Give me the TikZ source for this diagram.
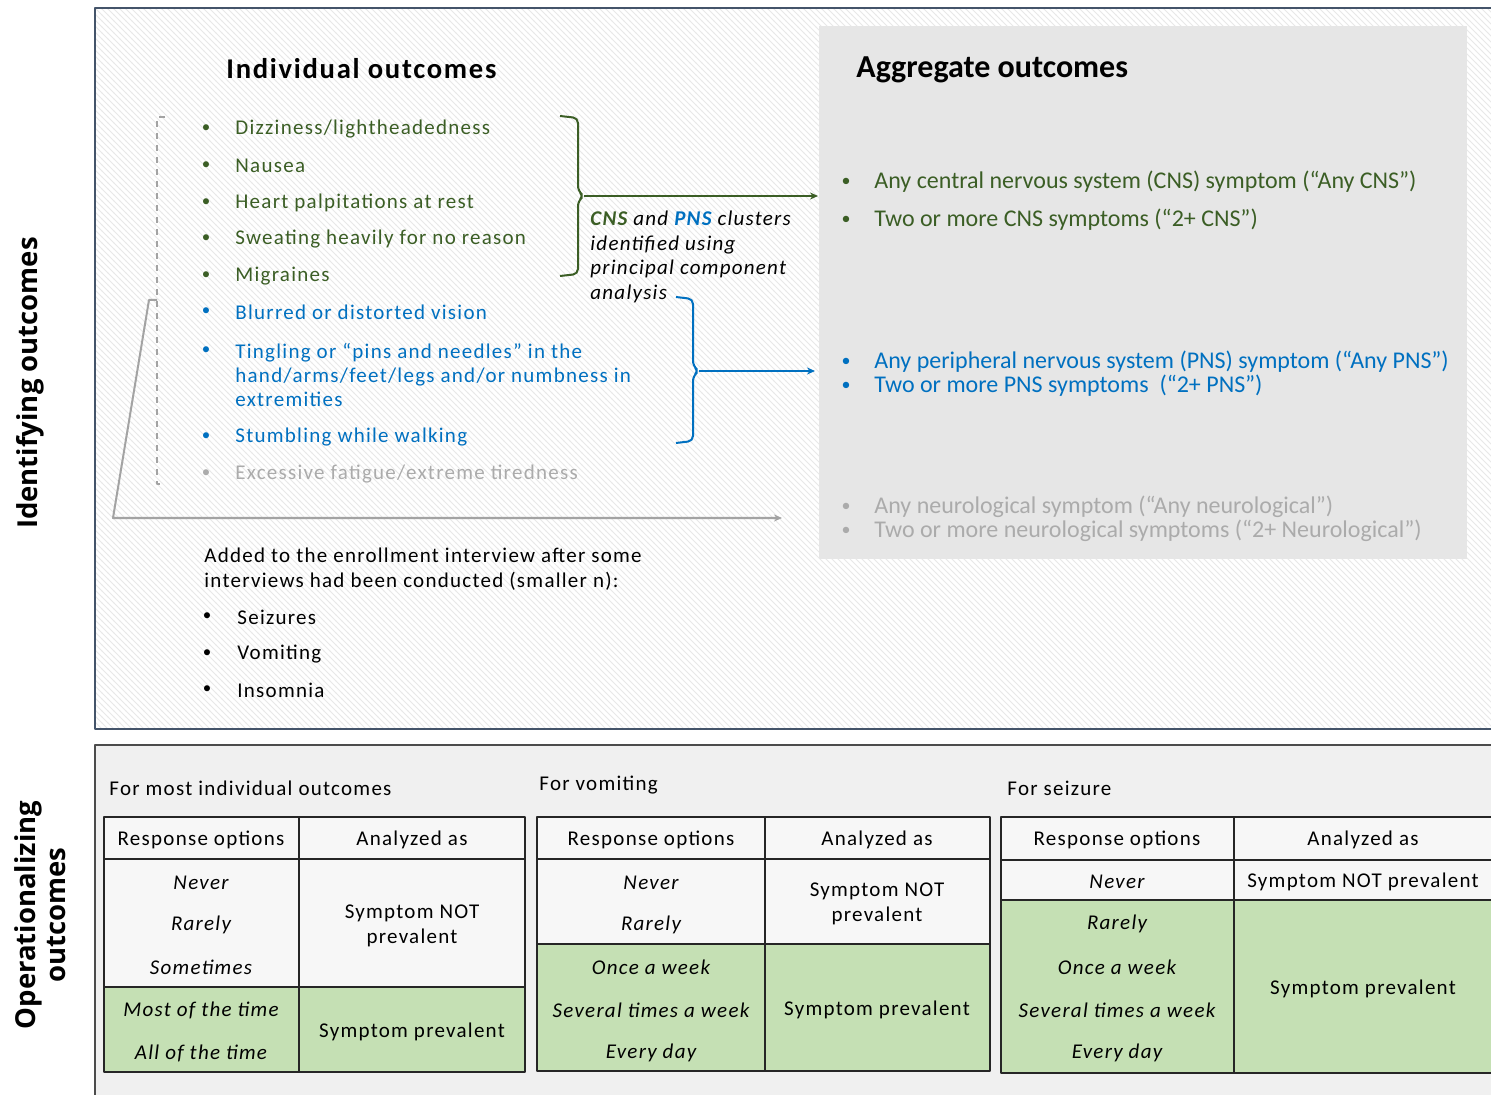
\documentclass[tikz,border=0pt]{standalone}
\usepackage{fontspec}
\setmainfont{Carlito}[LetterSpace=6]
\newfontfamily\aggfont{Carlito}
\newfontfamily\sidefont{Open Sans}
\usetikzlibrary{arrows.meta,patterns}
\newcommand\bodysize{\fontsize{10.5}{12.4}\selectfont}
\definecolor{cnsgreen}{HTML}{3B5E25}
\definecolor{pnsblue}{HTML}{0070C0}
\definecolor{neurogray}{HTML}{ABABAB}
\definecolor{linegray}{HTML}{A3A3A3}
\definecolor{cellgreen}{HTML}{C5E0B4}
\definecolor{aggfill}{HTML}{E6E6E6}
\definecolor{framecol}{HTML}{44546A}
\tikzset{
  txt/.style={inner sep=0pt, yshift=-1pt, font=\bodysize},
  item/.style={txt, anchor=west},
  dot/.style={txt, anchor=center, font=\fontsize{8.5}{10}\selectfont},
  aggitem/.style={inner sep=0pt, yshift=-1pt, anchor=west, font=\aggfont\fontsize{12}{14}\selectfont},
  aggdot/.style={inner sep=0pt, yshift=-1pt, anchor=center, font=\fontsize{9}{10}\selectfont},
  cell/.style={txt, align=center},
  opt/.style={cell, font=\itshape\bodysize},
  tabline/.style={line width=0.9pt, draw=black!85},
  side/.style={rotate=90, align=center, font=\sidefont\bfseries\fontsize{13.75}{15}\selectfont},
}
\begin{document}
\begin{tikzpicture}[x=0.5pt, y=-0.5pt, line join=round, >={Stealth[length=4pt,width=3.5pt]}]
\useasboundingbox (0,0) rectangle (1491,1095);
% frames
\fill[white] (95,8) rectangle (1510,729);
\fill[pattern=north west lines, pattern color=black!9] (95,8) rectangle (1510,729);
\draw[framecol, line width=0.8pt] (95,8) rectangle (1510,729);
\fill[aggfill] (819,26) rectangle (1467,559);
\draw[black!70, line width=1pt, fill=black!6] (95,745) rectangle (1510,1110);

% side titles
\node[side] (identify) at (30,383) {Identifying outcomes};
\node[side] (operate) at (40,915) {Operationalizing\\outcomes};

% headings
\node[anchor=west, inner sep=0pt, font=\bfseries\fontsize{14.3}{16}\selectfont] (indhead) at (226,69) {Individual outcomes};
\node[anchor=west, inner sep=0pt, font=\aggfont\bfseries\fontsize{16}{18}\selectfont] (agghead) at (856,70) {Aggregate outcomes};

% individual outcomes
\foreach \t/\y [count=\i] in {{Dizziness/lightheadedness}/127, Nausea/164, {Heart palpitations at rest}/201, {Sweating heavily for no reason}/237, Migraines/274}
{
  \node[dot, cnsgreen] (cnsb\i) at (206,\y) {•};
  \node[item, cnsgreen] (cns\i) at (235,\y) {\t};
}
\node[dot, pnsblue] (pnsb1) at (206,310) {•};
\node[item, pnsblue] (pns1) at (235,310) {Blurred or distorted vision};
\node[dot, pnsblue] (pnsb2) at (206,349) {•};
\node[item, pnsblue, anchor=north west, align=left, font=\fontsize{10.5}{12}\selectfont] (pns2) at (235,341) {Tingling or “pins and needles” in the\\hand/arms/feet/legs and/or numbness in\\extremities};
\node[dot, pnsblue] (pnsb3) at (206,435) {•};
\node[item, pnsblue] (pns3) at (235,435) {Stumbling while walking};
\node[dot, neurogray] (neub) at (206,472) {•};
\node[item, neurogray] (neu) at (235,472) {Excessive fatigue/extreme tiredness};

% clusters
\node[item, align=left, font=\itshape\fontsize{10.5}{12.4}\selectfont] (pca) at (590,255) {\textcolor{cnsgreen}{\textbf{CNS}} and \textcolor{pnsblue}{\textbf{PNS}} clusters\\identified using\\principal component\\analysis};
\path
(584,196) coordinate (cnstip)
(818,196) coordinate (cnsend)
(699,371) coordinate (pnstip)
(815,371) coordinate (pnsend)
(157,300) coordinate (allstart)
(782,518) coordinate (allend)
;
\draw[cnsgreen, line width=1pt, rounded corners=2.5pt] (560,116) -- (578,118) -- (578,191) -- (cnstip) -- (578,201) -- (578,274) -- (560,276);
\draw[cnsgreen, line width=1pt, ->] (cnstip) -- (cnsend);
\draw[pnsblue, line width=1pt, rounded corners=2.5pt] (676,297) -- (693,299) -- (693,366) -- (pnstip) -- (693,376) -- (693,441) -- (676,443);
\draw[pnsblue, line width=1pt, ->] (pnstip) -- (pnsend);
\draw[linegray, dashed, line width=0.8pt] (165,117) -- (157,117) -- (157,484) -- (165,484);
\draw[linegray, line width=1pt, ->] (allstart) -- (149,300) -- (113,518) -- (allend);

% aggregate outcomes
\foreach \t/\y/\c [count=\i] in {{Any central nervous system (CNS) symptom (“Any CNS”)}/180/cnsgreen, {Two or more CNS symptoms (“2+ CNS”)}/218/cnsgreen, {Any peripheral nervous system (PNS) symptom (“Any PNS”)}/360/pnsblue, {Two or more PNS symptoms\ \ (“2+ PNS”)}/384/pnsblue, {Any neurological symptom (“Any neurological”)}/505/neurogray, {Two or more neurological symptoms (“2+ Neurological”)}/529/neurogray}
{
  \node[aggdot, \c] (aggb\i) at (846,\y) {•};
  \node[aggitem, \c] (agg\i) at (874,\y) {\t};
}

% added later
\node[item, align=left] (added) at (204,567) {Added to the enrollment interview after some\\interviews had been conducted (smaller n):};
\foreach \t/\y [count=\i] in {Seizures/615, Vomiting/652, Insomnia/688}
{
  \node[dot] (addb\i) at (207,\y) {•};
  \node[item] (add\i) at (237,\y) {\t};
}

% operationalizing
\node[item] (mosthead) at (109,786) {For most individual outcomes};
\node[item] (vomhead) at (539,783) {For vomiting};
\node[item] (seizhead) at (1007,786) {For seizure};

\fill[black!3] (104,817) rectangle (525,987) (537,817) rectangle (990,944) (1001,817) rectangle (1510,900);
\fill[cellgreen] (104,987) rectangle (525,1072) (537,944) rectangle (990,1071) (1001,900) rectangle (1510,1073);
\draw[tabline] (104,817) rectangle (525,1072) (299,817) -- (299,1072) (104,859) -- (525,859) (104,987) -- (525,987);
\draw[tabline] (537,817) rectangle (990,1071) (765,817) -- (765,1071) (537,859) -- (990,859) (537,944) -- (990,944);
\draw[tabline] (1510,817) -- (1001,817) -- (1001,1073) -- (1510,1073) (1234,817) -- (1234,1073) (1001,860) -- (1510,860) (1001,900) -- (1510,900);

\foreach \x/\n in {201/1, 651/2, 1117/3}
  \node[cell] (resp\n) at (\x,838) {Response options};
\foreach \x/\n in {412/1, 877/2, 1363/3}
  \node[cell] (anal\n) at (\x,838) {Analyzed as};

\foreach \t/\y [count=\i] in {Never/881, Rarely/923, Sometimes/965, {Most of the time}/1008, {All of the time}/1051}
  \node[opt] (mostopt\i) at (201,\y) {\t};
\foreach \t/\y [count=\i] in {Never/881, Rarely/923, {Once a week}/965, {Several times a week}/1008, {Every day}/1051}
  \node[opt] (vomopt\i) at (651,\y) {\t};
\foreach \t/\y [count=\i] in {Never/880, Rarely/922, {Once a week}/965, {Several times a week}/1008, {Every day}/1051}
  \node[opt] (seizopt\i) at (1117,\y) {\t};

\node[cell] (mostno) at (412,924) {Symptom NOT\\prevalent};
\node[cell] (mostyes) at (412,1030) {Symptom prevalent};
\node[cell] (vomno) at (877,902) {Symptom NOT\\prevalent};
\node[cell] (vomyes) at (877,1008) {Symptom prevalent};
\node[cell] (seizno) at (1363,880) {Symptom NOT prevalent};
\node[cell] (seizyes) at (1363,987) {Symptom prevalent};
\end{tikzpicture}
\end{document}
